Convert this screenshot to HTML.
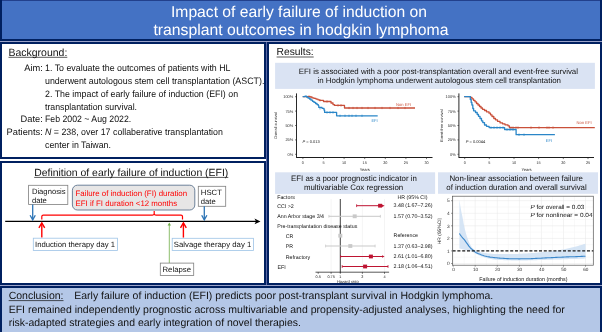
<!DOCTYPE html>
<html><head><meta charset="utf-8"><style>
html,body{margin:0;padding:0;background:#fff;width:602px;height:332px;overflow:hidden}
svg{display:block;font-family:"Liberation Sans",sans-serif;will-change:transform;text-rendering:geometricPrecision}
</style></head><body>
<svg width="602" height="332" viewBox="0 0 602 332">
<rect x="0" y="0" width="602" height="41" fill="#002060"/>
<rect x="2" y="0" width="598" height="1" fill="#22408C"/>
<rect x="2" y="1" width="598" height="38" fill="#4472C4"/>
<rect x="1" y="43" width="264" height="115" fill="#fff" stroke="#002060" stroke-width="2"/>
<rect x="1" y="162" width="264" height="122" fill="#fff" stroke="#002060" stroke-width="2"/>
<rect x="268" y="43" width="333" height="241" fill="#fff" stroke="#002060" stroke-width="2"/>
<rect x="1" y="287" width="600" height="50" fill="#B4C7E7" stroke="#002060" stroke-width="2"/>
<rect x="0" y="41" width="602" height="1" fill="#9AA2C8"/>
<rect x="0" y="285" width="602" height="1" fill="#9AA2C8"/>
<rect x="266" y="42" width="1" height="243" fill="#5A68A6"/>
<text x="171.00" y="17.00" font-size="15.7" fill="#fff" textLength="256.02" lengthAdjust="spacingAndGlyphs" >Impact of early failure of induction on</text>
<text x="153.40" y="35.40" font-size="15.7" fill="#fff" textLength="295.06" lengthAdjust="spacingAndGlyphs" >transplant outcomes in hodgkin lymphoma</text>
<text x="8.50" y="55.70" font-size="10.5" fill="#111" textLength="58.85" lengthAdjust="spacingAndGlyphs" >Background:</text>
<line x1="8.5" y1="57.3" x2="67.3" y2="57.3" stroke="#111" stroke-width="0.7"/>
<text x="42.80" y="70.80" text-anchor="end" font-size="9.3" fill="#111" >Aim:</text>
<text x="45.00" y="70.80" font-size="9.3" fill="#111" textLength="185.52" lengthAdjust="spacingAndGlyphs" >1. To evaluate the outcomes of patients with HL</text>
<text x="45.00" y="83.70" font-size="9.3" fill="#111" textLength="219.39" lengthAdjust="spacingAndGlyphs" >underwent autologous stem cell transplantation (ASCT).</text>
<text x="45.00" y="96.70" font-size="9.3" fill="#111" textLength="193.09" lengthAdjust="spacingAndGlyphs" >2. The impact of early failure of induction (EFI) on</text>
<text x="45.00" y="109.50" font-size="9.3" fill="#111" textLength="92.04" lengthAdjust="spacingAndGlyphs" >transplantation survival.</text>
<text x="42.80" y="122.30" text-anchor="end" font-size="9.3" fill="#111" >Date:</text>
<text x="45.00" y="122.30" font-size="9.3" fill="#111" textLength="86.19" lengthAdjust="spacingAndGlyphs" >Feb 2002 ~ Aug 2022.</text>
<text x="42.81" y="135.00" text-anchor="end" font-size="9.3" fill="#111" >Patients:</text>
<text x="45" y="135.0" font-size="9.3" fill="#111" textLength="177.9" lengthAdjust="spacingAndGlyphs"><tspan font-style="italic">N</tspan> = 238, over 17 collaberative transplantation</text>
<text x="45.00" y="147.80" font-size="9.3" fill="#111" textLength="65.96" lengthAdjust="spacingAndGlyphs" >center in Taiwan.</text>
<text x="34.20" y="175.80" font-size="10.4" fill="#111" textLength="194.08" lengthAdjust="spacingAndGlyphs" >Definition of early failure of induction (EFI)</text>
<line x1="34.2" y1="177.4" x2="228.3" y2="177.4" stroke="#111" stroke-width="0.7"/>
<rect x="28.6" y="185.3" width="39.2" height="19.2" fill="#fff" stroke="#7f7f7f" stroke-width="0.8"/>
<text x="31.90" y="193.60" font-size="7.7" fill="#111" textLength="33.61" lengthAdjust="spacingAndGlyphs" >Diagnosis</text>
<text x="31.90" y="202.70" font-size="7.7" fill="#111" >date</text>
<rect x="72.4" y="185.2" width="122.4" height="24.8" rx="5" fill="#E7E6E6" stroke="#5E7590" stroke-width="0.9"/>
<text x="75.50" y="196.30" font-size="7.9" fill="#FF0000" textLength="111.62" lengthAdjust="spacingAndGlyphs" >Failure of induction (FI) duration</text>
<text x="75.50" y="205.60" font-size="7.9" fill="#FF0000" textLength="101.62" lengthAdjust="spacingAndGlyphs" >EFI if FI duration &lt;12 months</text>
<rect x="198.3" y="186.3" width="27.4" height="20" fill="#fff" stroke="#7f7f7f" stroke-width="0.8"/>
<text x="200.80" y="195.00" font-size="7.7" fill="#111" textLength="21.12" lengthAdjust="spacingAndGlyphs" >HSCT</text>
<text x="200.80" y="204.40" font-size="7.7" fill="#111" >date</text>
<path d="M41.8,219.6 V216.6 Q41.8,215.1 43.3,215.1 H152.6 Q154.2,215.1 154.2,213.6 V210.9 M154.2,213.6 Q154.2,215.1 155.8,215.1 H181.0 Q182.5,215.1 182.5,216.6 V219.4" fill="none" stroke="#FF0000" stroke-width="1.2"/>
<line x1="5.2" y1="221.4" x2="257" y2="221.4" stroke="#000" stroke-width="1.3"/>
<path d="M260.5,221.4 L254.5,218.6 L256,221.4 L254.5,224.2 Z" fill="#000"/>
<line x1="32.7" y1="204.5" x2="32.7" y2="219.5" stroke="#2E75B6" stroke-width="1.3"/>
<path d="M30.1,215.2 L32.7,219.9 L35.300000000000004,215.2" fill="none" stroke="#2E75B6" stroke-width="1.3" stroke-linejoin="miter"/>
<line x1="204.3" y1="206.3" x2="204.3" y2="219.5" stroke="#2E75B6" stroke-width="1.3"/>
<path d="M201.70000000000002,215.2 L204.3,219.9 L206.9,215.2" fill="none" stroke="#2E75B6" stroke-width="1.3" stroke-linejoin="miter"/>
<line x1="41.8" y1="237.6" x2="41.8" y2="223.2" stroke="#FF0000" stroke-width="1.4"/>
<path d="M38.9,227.8 L41.8,222.8 L44.699999999999996,227.8" fill="none" stroke="#FF0000" stroke-width="1.4" stroke-linejoin="miter"/>
<line x1="183.4" y1="237.6" x2="183.4" y2="223.2" stroke="#FF0000" stroke-width="1.4"/>
<path d="M180.5,227.8 L183.4,222.8 L186.3,227.8" fill="none" stroke="#FF0000" stroke-width="1.4" stroke-linejoin="miter"/>
<line x1="169.3" y1="263.1" x2="169.3" y2="224.5" stroke="#70AD47" stroke-width="0.8"/>
<path d="M167.6,225.6 L169.3,222.6 L171.0,225.6 Z" fill="#70AD47"/>
<rect x="33.3" y="238.2" width="84.1" height="12.3" fill="#fff" stroke="#9DC3E6" stroke-width="0.8"/>
<text x="35.00" y="247.10" font-size="7.7" fill="#111" textLength="80.06" lengthAdjust="spacingAndGlyphs" >Induction therapy day 1</text>
<rect x="172.2" y="238.3" width="81.3" height="12.1" fill="#fff" stroke="#9DC3E6" stroke-width="0.8"/>
<text x="173.80" y="247.20" font-size="7.7" fill="#111" textLength="77.50" lengthAdjust="spacingAndGlyphs" >Salvage therapy day 1</text>
<rect x="160.3" y="263.1" width="33.4" height="12.4" fill="#fff" stroke="#7f7f7f" stroke-width="0.8"/>
<text x="162.50" y="271.90" font-size="7.7" fill="#111" textLength="28.49" lengthAdjust="spacingAndGlyphs" >Relapse</text>
<text x="276.60" y="55.40" font-size="10.3" fill="#111" textLength="37.12" lengthAdjust="spacingAndGlyphs" >Results:</text>
<line x1="276.6" y1="57" x2="313.7" y2="57" stroke="#111" stroke-width="0.7"/>
<rect x="275.1" y="62.8" width="319.8" height="26.1" fill="#DAE3F3"/>
<text x="298.80" y="73.80" font-size="7.8" fill="#111" textLength="279.20" lengthAdjust="spacingAndGlyphs" >EFI is associated with a poor post-transplantation overall and event-free survival</text>
<text x="317.50" y="83.10" font-size="7.8" fill="#111" textLength="243.43" lengthAdjust="spacingAndGlyphs" >in Hodgkin lymphoma underwent autologous stem cell transplantation</text>
<rect x="275.1" y="172.3" width="160" height="21.6" fill="#DAE3F3"/>
<text x="291.00" y="181.00" font-size="7.9" fill="#111" textLength="125.88" lengthAdjust="spacingAndGlyphs" >EFI as a poor prognostic indicator in</text>
<text x="303.90" y="190.40" font-size="7.9" fill="#111" textLength="99.36" lengthAdjust="spacingAndGlyphs" >multivariable Cox regression</text>
<rect x="438" y="172.3" width="160" height="21.5" fill="#DAE3F3"/>
<text x="449.40" y="180.90" font-size="7.9" fill="#111" textLength="133.52" lengthAdjust="spacingAndGlyphs" >Non-linear association between failure</text>
<text x="446.30" y="190.20" font-size="7.9" fill="#111" textLength="140.42" lengthAdjust="spacingAndGlyphs" >of induction duration and overall survival</text>
<text x="8.70" y="299.00" font-size="10.5" fill="#111" textLength="54.85" lengthAdjust="spacingAndGlyphs" >Conclusion:</text>
<line x1="8.7" y1="300.6" x2="63.5" y2="300.6" stroke="#111" stroke-width="0.7"/>
<text x="74.30" y="299.00" font-size="10.5" fill="#111" textLength="418.89" lengthAdjust="spacingAndGlyphs" >Early failure of induction (EFI) predicts poor post-transplant survival in Hodgkin lymphoma.</text>
<text x="8.70" y="312.70" font-size="10.5" fill="#111" textLength="556.16" lengthAdjust="spacingAndGlyphs" >EFI remained independently prognostic across multivariable and propensity-adjusted analyses, highlighting the need for</text>
<text x="8.70" y="325.90" font-size="10.5" fill="#111" textLength="292.23" lengthAdjust="spacingAndGlyphs" >risk-adapted strategies and early integration of novel therapies.</text>
<line x1="296.5" y1="93.4" x2="296.5" y2="157.9" stroke="#111" stroke-width="0.9"/>
<line x1="296.5" y1="157.5" x2="432.5" y2="157.5" stroke="#111" stroke-width="0.95"/>
<line x1="295.0" y1="96.7" x2="296.5" y2="96.7" stroke="#222" stroke-width="0.6"/>
<text x="293.3" y="98.1" font-size="3.95" text-anchor="end" fill="#333">100%</text>
<line x1="295.0" y1="111.1" x2="296.5" y2="111.1" stroke="#222" stroke-width="0.6"/>
<text x="293.3" y="112.5" font-size="3.95" text-anchor="end" fill="#333">75%</text>
<line x1="295.0" y1="125.5" x2="296.5" y2="125.5" stroke="#222" stroke-width="0.6"/>
<text x="293.3" y="126.9" font-size="3.95" text-anchor="end" fill="#333">50%</text>
<line x1="295.0" y1="139.9" x2="296.5" y2="139.9" stroke="#222" stroke-width="0.6"/>
<text x="293.3" y="141.3" font-size="3.95" text-anchor="end" fill="#333">25%</text>
<line x1="295.0" y1="154.3" x2="296.5" y2="154.3" stroke="#222" stroke-width="0.6"/>
<text x="293.3" y="155.7" font-size="3.95" text-anchor="end" fill="#333">0%</text>
<line x1="302.9" y1="157.5" x2="302.9" y2="159.1" stroke="#222" stroke-width="0.6"/>
<text x="302.9" y="164.1" font-size="3.8" text-anchor="middle" fill="#333">0</text>
<line x1="323.5" y1="157.5" x2="323.5" y2="159.1" stroke="#222" stroke-width="0.6"/>
<text x="323.5" y="164.1" font-size="3.8" text-anchor="middle" fill="#333">5</text>
<line x1="344.1" y1="157.5" x2="344.1" y2="159.1" stroke="#222" stroke-width="0.6"/>
<text x="344.1" y="164.1" font-size="3.8" text-anchor="middle" fill="#333">10</text>
<line x1="364.7" y1="157.5" x2="364.7" y2="159.1" stroke="#222" stroke-width="0.6"/>
<text x="364.7" y="164.1" font-size="3.8" text-anchor="middle" fill="#333">15</text>
<line x1="385.3" y1="157.5" x2="385.3" y2="159.1" stroke="#222" stroke-width="0.6"/>
<text x="385.3" y="164.1" font-size="3.8" text-anchor="middle" fill="#333">20</text>
<line x1="405.9" y1="157.5" x2="405.9" y2="159.1" stroke="#222" stroke-width="0.6"/>
<text x="405.9" y="164.1" font-size="3.8" text-anchor="middle" fill="#333">25</text>
<line x1="426.5" y1="157.5" x2="426.5" y2="159.1" stroke="#222" stroke-width="0.6"/>
<text x="426.5" y="164.1" font-size="3.8" text-anchor="middle" fill="#333">30</text>
<text x="364.8" y="170.7" font-size="4" text-anchor="middle" fill="#222">Years</text>
<text transform="translate(277.4,125.6) rotate(-90)" font-size="3.9" text-anchor="middle" fill="#222">Overall survival</text>
<text x="302.5" y="142.8" font-size="4" fill="#222"><tspan font-style="italic">P</tspan> = 0.013</text>
<path d="M302.7,96.6 L306.0,96.6 L306.0,96.6 L308.0,96.6 L308.0,96.3 L310.0,96.3 L310.0,97.0 L312.0,97.0 L312.0,97.8 L314.0,97.8 L314.0,98.4 L316.0,98.4 L316.0,99.1 L318.0,99.1 L318.0,99.8 L319.5,99.8 L319.5,100.3 L323.5,100.3 L323.5,101.5 L331.0,101.5 L331.0,103.0 L333.0,103.0 L333.0,104.6 L334.5,104.6 L334.5,105.4 L344.5,105.4 L344.5,108.0 L415.0,108.0 L415.0,108.0" fill="none" stroke="#C9503A" stroke-width="1.3" stroke-linejoin="round"/>
<line x1="320.0" y1="99.2" x2="320.0" y2="101.4" stroke="#C9503A" stroke-width="0.8"/>
<line x1="327.0" y1="100.4" x2="327.0" y2="102.6" stroke="#C9503A" stroke-width="0.8"/>
<line x1="338.0" y1="104.3" x2="338.0" y2="106.5" stroke="#C9503A" stroke-width="0.8"/>
<line x1="341.0" y1="104.3" x2="341.0" y2="106.5" stroke="#C9503A" stroke-width="0.8"/>
<line x1="349.0" y1="106.9" x2="349.0" y2="109.1" stroke="#C9503A" stroke-width="0.8"/>
<line x1="353.0" y1="106.9" x2="353.0" y2="109.1" stroke="#C9503A" stroke-width="0.8"/>
<line x1="357.0" y1="106.9" x2="357.0" y2="109.1" stroke="#C9503A" stroke-width="0.8"/>
<line x1="362.0" y1="106.9" x2="362.0" y2="109.1" stroke="#C9503A" stroke-width="0.8"/>
<line x1="368.0" y1="106.9" x2="368.0" y2="109.1" stroke="#C9503A" stroke-width="0.8"/>
<line x1="375.0" y1="106.9" x2="375.0" y2="109.1" stroke="#C9503A" stroke-width="0.8"/>
<line x1="382.0" y1="106.9" x2="382.0" y2="109.1" stroke="#C9503A" stroke-width="0.8"/>
<line x1="390.0" y1="106.9" x2="390.0" y2="109.1" stroke="#C9503A" stroke-width="0.8"/>
<line x1="398.0" y1="106.9" x2="398.0" y2="109.1" stroke="#C9503A" stroke-width="0.8"/>
<line x1="405.0" y1="106.9" x2="405.0" y2="109.1" stroke="#C9503A" stroke-width="0.8"/>
<path d="M302.7,96.6 L305.0,96.6 L305.0,96.2 L306.5,96.2 L306.5,97.0 L308.0,97.0 L308.0,98.0 L309.5,98.0 L309.5,99.0 L311.0,99.0 L311.0,100.2 L312.5,100.2 L312.5,101.3 L314.0,101.3 L314.0,102.4 L315.5,102.4 L315.5,103.5 L317.0,103.5 L317.0,104.6 L318.3,104.6 L318.3,105.6 L318.8,105.6 L318.8,107.4 L322.0,107.4 L322.0,108.3 L324.0,108.3 L324.0,110.0 L324.6,110.0 L324.6,112.4 L336.6,112.4 L336.6,115.8 L377.7,115.8 L377.7,115.8" fill="none" stroke="#2A86C8" stroke-width="1.3" stroke-linejoin="round"/>
<line x1="320.0" y1="107.2" x2="320.0" y2="109.4" stroke="#2A86C8" stroke-width="0.8"/>
<line x1="327.0" y1="111.3" x2="327.0" y2="113.5" stroke="#2A86C8" stroke-width="0.8"/>
<line x1="330.0" y1="111.3" x2="330.0" y2="113.5" stroke="#2A86C8" stroke-width="0.8"/>
<line x1="333.0" y1="111.3" x2="333.0" y2="113.5" stroke="#2A86C8" stroke-width="0.8"/>
<line x1="340.0" y1="114.7" x2="340.0" y2="116.9" stroke="#2A86C8" stroke-width="0.8"/>
<line x1="345.0" y1="114.7" x2="345.0" y2="116.9" stroke="#2A86C8" stroke-width="0.8"/>
<line x1="349.0" y1="114.7" x2="349.0" y2="116.9" stroke="#2A86C8" stroke-width="0.8"/>
<line x1="352.0" y1="114.7" x2="352.0" y2="116.9" stroke="#2A86C8" stroke-width="0.8"/>
<line x1="356.0" y1="114.7" x2="356.0" y2="116.9" stroke="#2A86C8" stroke-width="0.8"/>
<line x1="362.0" y1="114.7" x2="362.0" y2="116.9" stroke="#2A86C8" stroke-width="0.8"/>
<text x="396" y="105.6" font-size="4.1" fill="#C9503A">Non EFI</text>
<text x="371.4" y="122.4" font-size="4.1" fill="#2A86C8">EFI</text>
<line x1="458.9" y1="93.4" x2="458.9" y2="157.9" stroke="#111" stroke-width="0.9"/>
<line x1="458.9" y1="157.5" x2="594.0" y2="157.5" stroke="#111" stroke-width="0.95"/>
<line x1="457.4" y1="96.7" x2="458.9" y2="96.7" stroke="#222" stroke-width="0.6"/>
<text x="455.7" y="98.1" font-size="3.95" text-anchor="end" fill="#333">100%</text>
<line x1="457.4" y1="111.1" x2="458.9" y2="111.1" stroke="#222" stroke-width="0.6"/>
<text x="455.7" y="112.5" font-size="3.95" text-anchor="end" fill="#333">75%</text>
<line x1="457.4" y1="125.5" x2="458.9" y2="125.5" stroke="#222" stroke-width="0.6"/>
<text x="455.7" y="126.9" font-size="3.95" text-anchor="end" fill="#333">50%</text>
<line x1="457.4" y1="139.9" x2="458.9" y2="139.9" stroke="#222" stroke-width="0.6"/>
<text x="455.7" y="141.3" font-size="3.95" text-anchor="end" fill="#333">25%</text>
<line x1="457.4" y1="154.3" x2="458.9" y2="154.3" stroke="#222" stroke-width="0.6"/>
<text x="455.7" y="155.7" font-size="3.95" text-anchor="end" fill="#333">0%</text>
<line x1="464.7" y1="157.5" x2="464.7" y2="159.1" stroke="#222" stroke-width="0.6"/>
<text x="464.7" y="164.1" font-size="3.8" text-anchor="middle" fill="#333">0</text>
<line x1="489.3" y1="157.5" x2="489.3" y2="159.1" stroke="#222" stroke-width="0.6"/>
<text x="489.3" y="164.1" font-size="3.8" text-anchor="middle" fill="#333">5</text>
<line x1="514.0" y1="157.5" x2="514.0" y2="159.1" stroke="#222" stroke-width="0.6"/>
<text x="514.0" y="164.1" font-size="3.8" text-anchor="middle" fill="#333">10</text>
<line x1="538.6" y1="157.5" x2="538.6" y2="159.1" stroke="#222" stroke-width="0.6"/>
<text x="538.6" y="164.1" font-size="3.8" text-anchor="middle" fill="#333">15</text>
<line x1="563.3" y1="157.5" x2="563.3" y2="159.1" stroke="#222" stroke-width="0.6"/>
<text x="563.3" y="164.1" font-size="3.8" text-anchor="middle" fill="#333">20</text>
<line x1="588.0" y1="157.5" x2="588.0" y2="159.1" stroke="#222" stroke-width="0.6"/>
<text x="588.0" y="164.1" font-size="3.8" text-anchor="middle" fill="#333">25</text>
<text x="526.5" y="170.7" font-size="4" text-anchor="middle" fill="#222">Years</text>
<text transform="translate(442.6,125.6) rotate(-90)" font-size="3.9" text-anchor="middle" fill="#222">Event-free survival</text>
<text x="465.8" y="142.8" font-size="4" fill="#222"><tspan font-style="italic">P</tspan> = 0.0044</text>
<path d="M464.2,96.6 L468.8,96.6 L468.8,96.6 L470.5,96.6 L470.5,97.5 L472.0,97.5 L472.0,98.8 L473.5,98.8 L473.5,100.3 L475.0,100.3 L475.0,101.8 L476.5,101.8 L476.5,103.5 L478.0,103.5 L478.0,105.0 L479.5,105.0 L479.5,106.5 L481.0,106.5 L481.0,108.0 L482.5,108.0 L482.5,109.3 L484.5,109.3 L484.5,110.5 L486.5,110.5 L486.5,111.8 L489.0,111.8 L489.0,113.2 L490.5,113.2 L490.5,114.8 L492.0,114.8 L492.0,116.5 L493.8,116.5 L493.8,118.5 L495.5,118.5 L495.5,119.8 L497.5,119.8 L497.5,121.3 L500.0,121.3 L500.0,122.8 L502.5,122.8 L502.5,123.8 L505.0,123.8 L505.0,124.8 L508.0,124.8 L508.0,125.8 L509.4,125.8 L509.4,127.6 L594.8,127.6 L594.8,127.6" fill="none" stroke="#C9503A" stroke-width="1.3" stroke-linejoin="round"/>
<line x1="511.0" y1="126.5" x2="511.0" y2="128.7" stroke="#C9503A" stroke-width="0.8"/>
<line x1="513.0" y1="126.5" x2="513.0" y2="128.7" stroke="#C9503A" stroke-width="0.8"/>
<line x1="516.0" y1="126.5" x2="516.0" y2="128.7" stroke="#C9503A" stroke-width="0.8"/>
<line x1="518.0" y1="126.5" x2="518.0" y2="128.7" stroke="#C9503A" stroke-width="0.8"/>
<line x1="531.0" y1="126.5" x2="531.0" y2="128.7" stroke="#C9503A" stroke-width="0.8"/>
<line x1="539.0" y1="126.5" x2="539.0" y2="128.7" stroke="#C9503A" stroke-width="0.8"/>
<line x1="547.0" y1="126.5" x2="547.0" y2="128.7" stroke="#C9503A" stroke-width="0.8"/>
<line x1="549.0" y1="126.5" x2="549.0" y2="128.7" stroke="#C9503A" stroke-width="0.8"/>
<line x1="553.0" y1="126.5" x2="553.0" y2="128.7" stroke="#C9503A" stroke-width="0.8"/>
<path d="M464.2,96.6 L469.3,96.6 L469.3,96.6 L470.3,96.6 L470.3,99.5 L471.2,99.5 L471.2,102.5 L471.9,102.5 L471.9,105.0 L472.8,105.0 L472.8,108.5 L473.6,108.5 L473.6,110.8 L475.5,110.8 L475.5,112.5 L477.2,112.5 L477.2,114.5 L478.5,114.5 L478.5,116.3 L480.0,116.3 L480.0,118.5 L481.5,118.5 L481.5,120.8 L482.8,120.8 L482.8,122.6 L484.5,122.6 L484.5,125.0 L486.5,125.0 L486.5,126.3 L489.1,126.3 L489.1,127.6 L504.6,127.6 L504.6,129.5 L516.1,129.5 L516.1,134.7 L554.9,134.7 L554.9,134.7" fill="none" stroke="#2A86C8" stroke-width="1.3" stroke-linejoin="round"/>
<line x1="491.0" y1="126.5" x2="491.0" y2="128.7" stroke="#2A86C8" stroke-width="0.8"/>
<line x1="494.0" y1="126.5" x2="494.0" y2="128.7" stroke="#2A86C8" stroke-width="0.8"/>
<line x1="497.0" y1="126.5" x2="497.0" y2="128.7" stroke="#2A86C8" stroke-width="0.8"/>
<line x1="500.0" y1="126.5" x2="500.0" y2="128.7" stroke="#2A86C8" stroke-width="0.8"/>
<line x1="503.0" y1="126.5" x2="503.0" y2="128.7" stroke="#2A86C8" stroke-width="0.8"/>
<line x1="507.0" y1="128.4" x2="507.0" y2="130.6" stroke="#2A86C8" stroke-width="0.8"/>
<line x1="510.0" y1="128.4" x2="510.0" y2="130.6" stroke="#2A86C8" stroke-width="0.8"/>
<line x1="513.0" y1="128.4" x2="513.0" y2="130.6" stroke="#2A86C8" stroke-width="0.8"/>
<line x1="519.0" y1="133.6" x2="519.0" y2="135.8" stroke="#2A86C8" stroke-width="0.8"/>
<line x1="524.0" y1="133.6" x2="524.0" y2="135.8" stroke="#2A86C8" stroke-width="0.8"/>
<text x="576.6" y="124.4" font-size="4.1" fill="#C9503A">Non EFI</text>
<text x="545.7" y="141.5" font-size="4.1" fill="#2A86C8">EFI</text>
<line x1="331.1" y1="199" x2="331.1" y2="272.2" stroke="#ECECEC" stroke-width="0.6"/>
<line x1="362.4" y1="199" x2="362.4" y2="272.2" stroke="#ECECEC" stroke-width="0.6"/>
<line x1="384.5" y1="199" x2="384.5" y2="272.2" stroke="#ECECEC" stroke-width="0.6"/>
<line x1="340.3" y1="199" x2="340.3" y2="272.6" stroke="#111" stroke-width="0.8"/>
<line x1="315.5" y1="272.2" x2="389.1" y2="272.2" stroke="#111" stroke-width="0.7"/>
<line x1="318.2" y1="272.2" x2="318.2" y2="273.8" stroke="#111" stroke-width="0.6"/>
<text x="318.2" y="278.3" font-size="3.8" text-anchor="middle" fill="#222">0.5</text>
<line x1="331.1" y1="272.2" x2="331.1" y2="273.8" stroke="#111" stroke-width="0.6"/>
<text x="331.1" y="278.3" font-size="3.8" text-anchor="middle" fill="#222">0.75</text>
<line x1="340.3" y1="272.2" x2="340.3" y2="273.8" stroke="#111" stroke-width="0.6"/>
<text x="340.3" y="278.3" font-size="3.8" text-anchor="middle" fill="#222">1</text>
<line x1="362.4" y1="272.2" x2="362.4" y2="273.8" stroke="#111" stroke-width="0.6"/>
<text x="362.4" y="278.3" font-size="3.8" text-anchor="middle" fill="#222">2</text>
<line x1="384.5" y1="272.2" x2="384.5" y2="273.8" stroke="#111" stroke-width="0.6"/>
<text x="384.5" y="278.3" font-size="3.8" text-anchor="middle" fill="#222">4</text>
<text x="347.8" y="282.7" font-size="4" text-anchor="middle" fill="#222">Hazard ratio</text>
<text x="277.20" y="198.90" font-size="5.3" fill="#111" >Factors</text>
<text x="277.20" y="207.80" font-size="5.3" fill="#111" >CCI &gt;2</text>
<text x="277.20" y="218.40" font-size="5.3" fill="#111" >Ann Arbor stage 3/4</text>
<text x="277.20" y="227.90" font-size="5.3" fill="#111" >Pre-transplantation disease status</text>
<text x="285.70" y="237.90" font-size="5.3" fill="#111" >CR</text>
<text x="285.80" y="247.90" font-size="5.3" fill="#111" >PR</text>
<text x="285.80" y="258.80" font-size="5.3" fill="#111" >Refractory</text>
<text x="277.50" y="268.60" font-size="5.3" fill="#111" >EFI</text>
<text x="397.40" y="199.10" font-size="5.3" fill="#111" >HR (95% CI)</text>
<text x="393.60" y="207.10" font-size="5.3" fill="#111" >3.48 (1.67–7.26)</text>
<text x="393.60" y="218.40" font-size="5.3" fill="#111" >1.57 (0.70–3.52)</text>
<text x="393.60" y="236.60" font-size="5.3" fill="#111" >Reference</text>
<text x="393.60" y="247.90" font-size="5.3" fill="#111" >1.37 (0.63–2.98)</text>
<text x="393.60" y="258.40" font-size="5.3" fill="#111" >2.61 (1.01–6.80)</text>
<text x="393.60" y="268.30" font-size="5.3" fill="#111" >2.18 (1.06–4.51)</text>
<line x1="356.6" y1="205.7" x2="383.1" y2="205.7" stroke="#BE1432" stroke-width="1.0"/>
<line x1="356.6" y1="204.29999999999998" x2="356.6" y2="207.1" stroke="#BE1432" stroke-width="0.8"/>
<path d="M382.0,204.39999999999998 L384.6,205.7 L382.0,207.0 Z" fill="#BE1432"/>
<rect x="378.1" y="203.79999999999998" width="4" height="3.8" fill="#BE1432"/>
<line x1="328.9" y1="216.3" x2="380.4" y2="216.3" stroke="#C9C9C9" stroke-width="1.0"/>
<line x1="328.9" y1="214.9" x2="328.9" y2="217.70000000000002" stroke="#C9C9C9" stroke-width="0.8"/>
<line x1="380.4" y1="214.9" x2="380.4" y2="217.70000000000002" stroke="#C9C9C9" stroke-width="0.8"/>
<rect x="352.7" y="214.4" width="4" height="3.8" fill="#C9C9C9"/>
<rect x="338.3" y="233.79999999999998" width="4" height="3.8" fill="#C9C9C9"/>
<line x1="325.6" y1="246.0" x2="375.1" y2="246.0" stroke="#C9C9C9" stroke-width="1.0"/>
<line x1="325.6" y1="244.6" x2="325.6" y2="247.4" stroke="#C9C9C9" stroke-width="0.8"/>
<line x1="375.1" y1="244.6" x2="375.1" y2="247.4" stroke="#C9C9C9" stroke-width="0.8"/>
<rect x="348.3" y="244.1" width="4" height="3.8" fill="#C9C9C9"/>
<line x1="340.6" y1="256.5" x2="383.1" y2="256.5" stroke="#BE1432" stroke-width="1.0"/>
<line x1="340.6" y1="255.1" x2="340.6" y2="257.9" stroke="#BE1432" stroke-width="0.8"/>
<path d="M382.0,255.2 L384.6,256.5 L382.0,257.8 Z" fill="#BE1432"/>
<rect x="368.9" y="254.6" width="4" height="3.8" fill="#BE1432"/>
<line x1="342.2" y1="266.5" x2="388.0" y2="266.5" stroke="#BE1432" stroke-width="1.0"/>
<line x1="342.2" y1="265.1" x2="342.2" y2="267.9" stroke="#BE1432" stroke-width="0.8"/>
<line x1="388.0" y1="265.1" x2="388.0" y2="267.9" stroke="#BE1432" stroke-width="0.8"/>
<rect x="363.1" y="264.6" width="4" height="3.8" fill="#BE1432"/>
<rect x="452.6" y="196.2" width="140.7" height="69" fill="#fff"/>
<line x1="453.2" y1="196.2" x2="453.2" y2="265.2" stroke="#E6E6E6" stroke-width="0.5"/>
<line x1="464.2" y1="196.2" x2="464.2" y2="265.2" stroke="#F2F2F2" stroke-width="0.5"/>
<line x1="475.2" y1="196.2" x2="475.2" y2="265.2" stroke="#E6E6E6" stroke-width="0.5"/>
<line x1="486.3" y1="196.2" x2="486.3" y2="265.2" stroke="#F2F2F2" stroke-width="0.5"/>
<line x1="497.3" y1="196.2" x2="497.3" y2="265.2" stroke="#E6E6E6" stroke-width="0.5"/>
<line x1="508.3" y1="196.2" x2="508.3" y2="265.2" stroke="#F2F2F2" stroke-width="0.5"/>
<line x1="519.4" y1="196.2" x2="519.4" y2="265.2" stroke="#E6E6E6" stroke-width="0.5"/>
<line x1="530.4" y1="196.2" x2="530.4" y2="265.2" stroke="#F2F2F2" stroke-width="0.5"/>
<line x1="541.4" y1="196.2" x2="541.4" y2="265.2" stroke="#E6E6E6" stroke-width="0.5"/>
<line x1="552.4" y1="196.2" x2="552.4" y2="265.2" stroke="#F2F2F2" stroke-width="0.5"/>
<line x1="563.5" y1="196.2" x2="563.5" y2="265.2" stroke="#E6E6E6" stroke-width="0.5"/>
<line x1="574.5" y1="196.2" x2="574.5" y2="265.2" stroke="#F2F2F2" stroke-width="0.5"/>
<line x1="585.5" y1="196.2" x2="585.5" y2="265.2" stroke="#E6E6E6" stroke-width="0.5"/>
<line x1="452.6" y1="263.5" x2="593.3" y2="263.5" stroke="#E6E6E6" stroke-width="0.5"/>
<line x1="452.6" y1="257.2" x2="593.3" y2="257.2" stroke="#F2F2F2" stroke-width="0.5"/>
<line x1="452.6" y1="250.9" x2="593.3" y2="250.9" stroke="#E6E6E6" stroke-width="0.5"/>
<line x1="452.6" y1="244.7" x2="593.3" y2="244.7" stroke="#F2F2F2" stroke-width="0.5"/>
<line x1="452.6" y1="238.4" x2="593.3" y2="238.4" stroke="#E6E6E6" stroke-width="0.5"/>
<line x1="452.6" y1="232.1" x2="593.3" y2="232.1" stroke="#F2F2F2" stroke-width="0.5"/>
<line x1="452.6" y1="225.8" x2="593.3" y2="225.8" stroke="#E6E6E6" stroke-width="0.5"/>
<line x1="452.6" y1="219.5" x2="593.3" y2="219.5" stroke="#F2F2F2" stroke-width="0.5"/>
<line x1="452.6" y1="213.3" x2="593.3" y2="213.3" stroke="#E6E6E6" stroke-width="0.5"/>
<line x1="452.6" y1="207.0" x2="593.3" y2="207.0" stroke="#F2F2F2" stroke-width="0.5"/>
<line x1="452.6" y1="200.7" x2="593.3" y2="200.7" stroke="#E6E6E6" stroke-width="0.5"/>
<path d="M459.4,199.4 L460.4,206.6 L461.5,212.4 L462.6,217.5 L463.6,223.2 L464.7,228.4 L465.7,232.5 L466.8,236.2 L467.9,239.3 L468.9,242.0 L470.0,244.3 L471.0,246.1 L472.1,247.6 L473.2,248.8 L474.2,249.7 L475.3,250.4 L476.3,251.0 L477.4,251.4 L478.5,251.7 L479.5,252.0 L480.6,252.3 L481.6,252.5 L482.7,252.6 L483.8,252.8 L484.8,252.9 L485.9,253.1 L486.9,253.2 L488.0,253.4 L489.1,253.5 L490.1,253.6 L491.2,253.7 L492.2,253.8 L493.3,253.9 L494.4,253.9 L495.4,253.9 L496.5,254.0 L497.5,254.0 L498.6,254.0 L499.6,254.0 L500.7,254.0 L501.8,254.0 L502.8,254.0 L503.9,254.0 L504.9,254.0 L506.0,254.0 L507.1,254.0 L508.1,254.0 L509.2,254.0 L510.2,254.0 L511.3,254.0 L512.4,254.0 L513.4,254.0 L514.5,253.9 L515.5,253.9 L516.6,253.9 L517.7,253.9 L518.7,253.8 L519.8,253.8 L520.8,253.7 L521.9,253.7 L523.0,253.6 L524.0,253.6 L525.1,253.5 L526.1,253.5 L527.2,253.4 L528.3,253.3 L529.3,253.3 L530.4,253.2 L531.4,253.1 L532.5,253.1 L533.6,253.0 L534.6,252.9 L535.7,252.8 L536.7,252.7 L537.8,252.6 L538.9,252.5 L539.9,252.4 L541.0,252.3 L542.0,252.2 L543.1,252.1 L544.2,252.0 L545.2,251.9 L546.3,251.8 L547.3,251.7 L548.4,251.6 L549.5,251.5 L550.5,251.3 L551.6,251.2 L552.6,251.1 L553.7,251.0 L554.8,250.8 L555.8,250.7 L556.9,250.6 L557.9,250.4 L559.0,250.2 L560.1,250.0 L561.1,249.8 L562.2,249.6 L563.2,249.4 L564.3,249.2 L565.4,249.0 L566.4,248.8 L567.5,248.5 L568.5,248.3 L569.6,248.1 L570.7,247.8 L571.7,247.6 L572.8,247.3 L573.8,247.1 L574.9,246.8 L576.0,246.5 L577.0,246.2 L578.1,245.9 L579.1,245.6 L580.2,245.3 L581.3,245.0 L582.3,244.7 L583.4,244.3 L584.4,244.0 L585.5,243.7 L585.5,258.6 L584.4,258.6 L583.4,258.7 L582.3,258.7 L581.3,258.7 L580.2,258.8 L579.1,258.8 L578.1,258.8 L577.0,258.9 L576.0,258.9 L574.9,258.9 L573.8,259.0 L572.8,259.0 L571.7,259.0 L570.7,259.1 L569.6,259.1 L568.5,259.1 L567.5,259.2 L566.4,259.2 L565.4,259.2 L564.3,259.3 L563.2,259.3 L562.2,259.3 L561.1,259.4 L560.1,259.4 L559.0,259.4 L557.9,259.5 L556.9,259.5 L555.8,259.5 L554.8,259.6 L553.7,259.6 L552.6,259.7 L551.6,259.7 L550.5,259.7 L549.5,259.8 L548.4,259.8 L547.3,259.8 L546.3,259.8 L545.2,259.9 L544.2,259.9 L543.1,259.9 L542.0,260.0 L541.0,260.0 L539.9,260.0 L538.9,260.1 L537.8,260.1 L536.7,260.2 L535.7,260.2 L534.6,260.2 L533.6,260.2 L532.5,260.3 L531.4,260.3 L530.4,260.3 L529.3,260.3 L528.3,260.3 L527.2,260.4 L526.1,260.4 L525.1,260.4 L524.0,260.4 L523.0,260.4 L521.9,260.4 L520.8,260.4 L519.8,260.4 L518.7,260.4 L517.7,260.4 L516.6,260.4 L515.5,260.4 L514.5,260.4 L513.4,260.4 L512.4,260.4 L511.3,260.4 L510.2,260.3 L509.2,260.3 L508.1,260.3 L507.1,260.3 L506.0,260.2 L504.9,260.2 L503.9,260.2 L502.8,260.1 L501.8,260.1 L500.7,260.0 L499.6,259.9 L498.6,259.9 L497.5,259.8 L496.5,259.8 L495.4,259.7 L494.4,259.6 L493.3,259.4 L492.2,259.2 L491.2,259.0 L490.1,258.8 L489.1,258.6 L488.0,258.4 L486.9,258.1 L485.9,257.8 L484.8,257.5 L483.8,257.1 L482.7,256.8 L481.6,256.5 L480.6,256.1 L479.5,255.6 L478.5,255.2 L477.4,254.6 L476.3,254.0 L475.3,253.5 L474.2,252.9 L473.2,252.3 L472.1,251.7 L471.0,251.3 L470.0,251.0 L468.9,250.7 L467.9,250.4 L466.8,250.2 L465.7,249.9 L464.7,249.7 L463.6,249.4 L462.6,249.2 L461.5,249.0 L460.4,248.8 L459.4,248.6 Z" fill="#CFE1F3" fill-opacity="0.85"/>
<path d="M459.4,233.5 L460.4,235.0 L461.5,236.5 L462.6,237.8 L463.6,238.9 L464.7,240.1 L465.7,241.6 L466.8,243.2 L467.9,244.7 L468.9,246.1 L470.0,247.4 L471.0,248.5 L472.1,249.4 L473.2,250.3 L474.2,251.1 L475.3,252.1 L476.3,252.7 L477.4,253.2 L478.5,253.7 L479.5,254.1 L480.6,254.6 L481.6,255.0 L482.7,255.3 L483.8,255.7 L484.8,256.0 L485.9,256.2 L486.9,256.5 L488.0,256.7 L489.1,256.9 L490.1,257.1 L491.2,257.2 L492.2,257.3 L493.3,257.5 L494.4,257.6 L495.4,257.7 L496.5,257.7 L497.5,257.9 L498.6,258.0 L499.6,258.1 L500.7,258.2 L501.8,258.3 L502.8,258.3 L503.9,258.4 L504.9,258.5 L506.0,258.5 L507.1,258.6 L508.1,258.6 L509.2,258.7 L510.2,258.7 L511.3,258.7 L512.4,258.8 L513.4,258.8 L514.5,258.8 L515.5,258.8 L516.6,258.8 L517.7,258.8 L518.7,258.9 L519.8,258.9 L520.8,258.8 L521.9,258.8 L523.0,258.8 L524.0,258.8 L525.1,258.8 L526.1,258.8 L527.2,258.8 L528.3,258.7 L529.3,258.7 L530.4,258.7 L531.4,258.6 L532.5,258.6 L533.6,258.5 L534.6,258.5 L535.7,258.4 L536.7,258.4 L537.8,258.3 L538.9,258.3 L539.9,258.2 L541.0,258.2 L542.0,258.1 L543.1,258.0 L544.2,258.0 L545.2,257.9 L546.3,257.9 L547.3,257.8 L548.4,257.8 L549.5,257.7 L550.5,257.7 L551.6,257.6 L552.6,257.6 L553.7,257.5 L554.8,257.5 L555.8,257.4 L556.9,257.4 L557.9,257.3 L559.0,257.3 L560.1,257.2 L561.1,257.2 L562.2,257.1 L563.2,257.1 L564.3,257.0 L565.4,257.0 L566.4,256.9 L567.5,256.9 L568.5,256.9 L569.6,256.8 L570.7,256.8 L571.7,256.8 L572.8,256.7 L573.8,256.7 L574.9,256.7 L576.0,256.6 L577.0,256.6 L578.1,256.5 L579.1,256.5 L580.2,256.5 L581.3,256.4 L582.3,256.4 L583.4,256.3 L584.4,256.3 L585.5,256.2" fill="none" stroke="#3A87CB" stroke-width="1.1"/>
<line x1="452.6" y1="250.9" x2="593.3" y2="250.9" stroke="#1a1a1a" stroke-width="1.1" stroke-dasharray="3,1.8"/>
<rect x="452.6" y="196.2" width="140.7" height="69" fill="none" stroke="#555" stroke-width="0.7"/>
<line x1="451" y1="263.5" x2="452.6" y2="263.5" stroke="#444" stroke-width="0.5"/>
<text x="449.6" y="265.2" font-size="4.8" text-anchor="end" fill="#333">0</text>
<line x1="451" y1="250.9" x2="452.6" y2="250.9" stroke="#444" stroke-width="0.5"/>
<text x="449.6" y="252.6" font-size="4.8" text-anchor="end" fill="#333">1</text>
<line x1="451" y1="238.4" x2="452.6" y2="238.4" stroke="#444" stroke-width="0.5"/>
<text x="449.6" y="240.1" font-size="4.8" text-anchor="end" fill="#333">2</text>
<line x1="451" y1="225.8" x2="452.6" y2="225.8" stroke="#444" stroke-width="0.5"/>
<text x="449.6" y="227.5" font-size="4.8" text-anchor="end" fill="#333">3</text>
<line x1="451" y1="213.3" x2="452.6" y2="213.3" stroke="#444" stroke-width="0.5"/>
<text x="449.6" y="215.0" font-size="4.8" text-anchor="end" fill="#333">4</text>
<line x1="451" y1="200.7" x2="452.6" y2="200.7" stroke="#444" stroke-width="0.5"/>
<text x="449.6" y="202.4" font-size="4.8" text-anchor="end" fill="#333">5</text>
<line x1="453.2" y1="265.2" x2="453.2" y2="266.8" stroke="#444" stroke-width="0.5"/>
<text x="453.5" y="271.4" font-size="4.7" text-anchor="middle" fill="#333">0</text>
<line x1="475.2" y1="265.2" x2="475.2" y2="266.8" stroke="#444" stroke-width="0.5"/>
<text x="475.6" y="271.4" font-size="4.7" text-anchor="middle" fill="#333">10</text>
<line x1="497.3" y1="265.2" x2="497.3" y2="266.8" stroke="#444" stroke-width="0.5"/>
<text x="497.6" y="271.4" font-size="4.7" text-anchor="middle" fill="#333">20</text>
<line x1="519.4" y1="265.2" x2="519.4" y2="266.8" stroke="#444" stroke-width="0.5"/>
<text x="519.6" y="271.4" font-size="4.7" text-anchor="middle" fill="#333">30</text>
<line x1="541.4" y1="265.2" x2="541.4" y2="266.8" stroke="#444" stroke-width="0.5"/>
<text x="541.7" y="271.4" font-size="4.7" text-anchor="middle" fill="#333">40</text>
<line x1="563.5" y1="265.2" x2="563.5" y2="266.8" stroke="#444" stroke-width="0.5"/>
<text x="563.8" y="271.4" font-size="4.7" text-anchor="middle" fill="#333">50</text>
<line x1="585.5" y1="265.2" x2="585.5" y2="266.8" stroke="#444" stroke-width="0.5"/>
<text x="585.8" y="271.4" font-size="4.7" text-anchor="middle" fill="#333">60</text>
<text transform="translate(440.8,231) rotate(-90)" font-size="4.9" text-anchor="middle" fill="#222">HR (95%CI)</text>
<text x="479.20" y="281.00" font-size="5.5" fill="#111" textLength="88.31" lengthAdjust="spacingAndGlyphs" >Failure of induction duration (months)</text>
<text x="530.4" y="209" font-size="6" fill="#111" textLength="53.9" lengthAdjust="spacingAndGlyphs"><tspan font-style="italic">P</tspan> for overall  = 0.03</text>
<text x="530.4" y="216.6" font-size="6" fill="#111" textLength="62.1" lengthAdjust="spacingAndGlyphs"><tspan font-style="italic">P</tspan> for nonlinear  = 0.04</text>
</svg>
</body></html>
